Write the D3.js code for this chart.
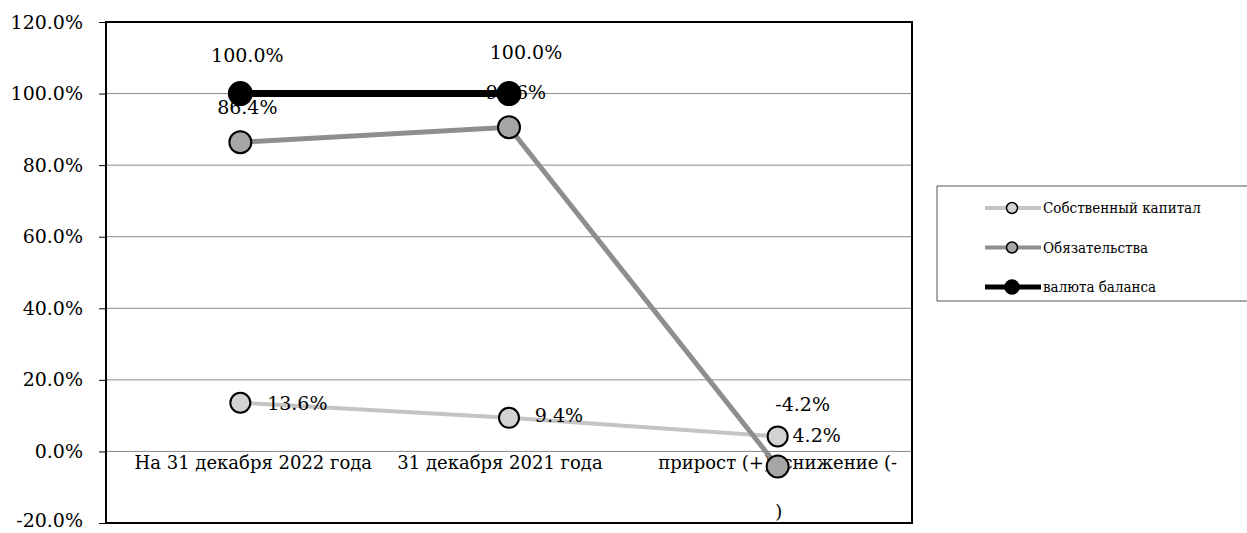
<!DOCTYPE html>
<html>
<head>
<meta charset="utf-8">
<script src="https://cdn.jsdelivr.net/npm/d3@7"></script>
<style>
  body { margin: 0; background: #fff; }
  svg text { font-family: "DejaVu Serif", serif; fill: #000; }
  svg text.cond { font-family: "DejaVu Serif Condensed", "DejaVu Serif", serif; font-stretch: condensed; }
</style>
</head>
<body>
<svg id="chart" width="1247" height="533"></svg>
<script>
// categories and series values (percent)
const categories = ['На 31 декабря 2022 года', '31 декабря 2021 года', 'прирост (+), снижение (-)'];
const capital = [13.6, 9.4, 4.2];        // Собственный капитал
const liabilities = [86.4, 90.6, -4.2];  // Обязательства
const balance = [100.0, 100.0, null];    // валюта баланса
const seriesNames = ['Собственный капитал', 'Обязательства', 'валюта баланса'];
const yTicks = [-20, 0, 20, 40, 60, 80, 100, 120];

const svg = d3.select('#chart');
const plotL = 106, plotR = 912, plotT = 22, plotB = 523;

const x = d3.scaleBand().domain(categories).range([plotL, plotR]);
const y = d3.scaleLinear().domain([-20, 120]).range([plotB, plotT]);
const cx = c => x(c) + x.bandwidth() / 2;
const fmt = v => v.toFixed(1) + '%';

// gridlines
svg.append('g')
  .selectAll('line')
  .data(yTicks)
  .join('line')
  .attr('x1', plotL).attr('x2', plotR)
  .attr('y1', d => y(d)).attr('y2', d => y(d))
  .attr('stroke', '#8a8a8a')
  .attr('stroke-width', 1);

// y axis
const yAxis = svg.append('g')
  .attr('transform', `translate(${plotL},0)`)
  .call(d3.axisLeft(y).tickValues(yTicks).tickFormat(fmt).tickSize(7).tickPadding(16));
yAxis.select('.domain').remove();
yAxis.selectAll('.tick line').attr('stroke', '#000');
yAxis.selectAll('.tick text')
  .attr('font-family', null)
  .style('font-size', '19px')
  .attr('dy', d => d === -20 ? '0.2em' : '0.32em');

// plot border
svg.append('rect')
  .attr('x', plotL).attr('y', plotT)
  .attr('width', plotR - plotL).attr('height', plotB - plotT)
  .attr('fill', 'none').attr('stroke', '#000').attr('stroke-width', 2);

// category labels, sitting just under the zero line
const catG = svg.append('g');
categories.forEach((c, i) => {
  const t = catG.append('text')
    .attr('x', cx(c) + [13, -9, 0][i])
    .attr('y', y(0) + 18)
    .attr('text-anchor', 'middle')
    .style('font-size', '18px');
  if (i === 2) {
    t.append('tspan').attr('x', cx(c)).text('прирост (+), снижение (-');
    t.append('tspan').attr('x', cx(c) + 1).attr('dy', 49).text(')');
  } else {
    t.text(c);
  }
});

const line = d3.line()
  .defined(d => d.v !== null)
  .x(d => cx(d.c))
  .y(d => y(d.v));

const toPts = arr => arr.map((v, i) => ({ c: categories[i], v }));

function drawSeries(values, lineColor, lineWidth, fill, r) {
  const pts = toPts(values);
  svg.append('path')
    .attr('d', line(pts))
    .attr('fill', 'none')
    .attr('stroke', lineColor)
    .attr('stroke-width', lineWidth);
  svg.append('g')
    .selectAll('circle')
    .data(pts.filter(d => d.v !== null))
    .join('circle')
    .attr('cx', d => cx(d.c))
    .attr('cy', d => y(d.v))
    .attr('r', r)
    .attr('fill', fill)
    .attr('stroke', '#000')
    .attr('stroke-width', 2);
}

function drawLabels(values, offsets) {
  svg.append('g')
    .selectAll('text')
    .data(toPts(values).filter(d => d.v !== null))
    .join('text')
    .attr('x', (d, i) => cx(d.c) + offsets[i][0])
    .attr('y', (d, i) => y(d.v) + offsets[i][1])
    .attr('text-anchor', 'middle')
    .style('font-size', '19px')
    .text(d => fmt(d.v));
}

drawSeries(capital, '#c4c4c4', 4, '#d2d2d2', 10);
drawSeries(liabilities, '#8e8e8e', 5, '#a6a6a6', 11);
drawLabels(capital, [[57, 7], [50, 4], [39, 6]]);
drawLabels(liabilities, [[7, -28], [7, -28], [25, -55]]);
drawSeries(balance, '#000', 7, '#000', 11.5);
drawLabels(balance, [[7, -32], [17, -35]]);

// legend
const lg = svg.append('g');
lg.append('path')
  .attr('d', 'M1247,186 H937 V301 H1247')
  .attr('fill', 'none')
  .attr('stroke', '#555')
  .attr('stroke-width', 1);
const legendStyle = [
  { color: '#c4c4c4', w: 4, fill: '#d2d2d2', r: 5.5 },
  { color: '#8e8e8e', w: 4, fill: '#a6a6a6', r: 5.5 },
  { color: '#000', w: 5, fill: '#000', r: 7 }
];
seriesNames.forEach((name, i) => {
  const ly = 208 + i * 39.5;
  const s = legendStyle[i];
  lg.append('line')
    .attr('x1', 985).attr('x2', 1041).attr('y1', ly).attr('y2', ly)
    .attr('stroke', s.color).attr('stroke-width', s.w);
  lg.append('circle')
    .attr('cx', 1012).attr('cy', ly).attr('r', s.r)
    .attr('fill', s.fill).attr('stroke', '#000').attr('stroke-width', 1.5);
  lg.append('text')
    .attr('class', 'cond')
    .attr('x', 1043).attr('y', ly + 5)
    .style('font-size', '15px')
    .text(name);
});
</script>
</body>
</html>
